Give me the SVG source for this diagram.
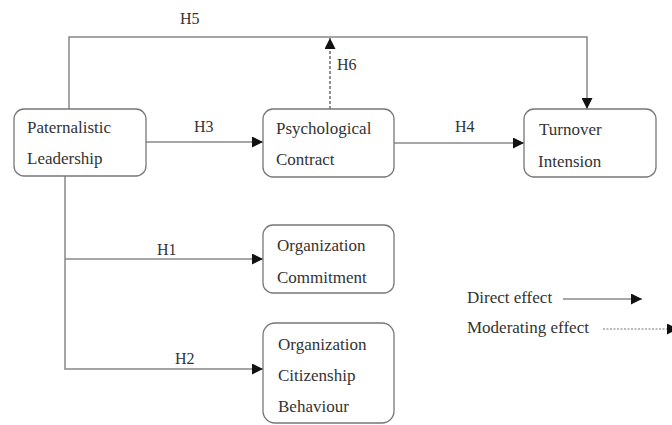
<svg xmlns="http://www.w3.org/2000/svg" width="672" height="425" viewBox="0 0 672 425">
<style>
.box{fill:#fff;stroke:#777;stroke-width:1.3}
.t{font-family:"Liberation Serif","Times New Roman",serif;font-size:17px;fill:#333}
.h{font-family:"Liberation Serif","Times New Roman",serif;font-size:16px;fill:#333}
.c{fill:none;stroke:#888;stroke-width:1.5}
.d{fill:none;stroke:#555;stroke-width:1.3;stroke-dasharray:3 2}
.d2{fill:none;stroke:#777;stroke-width:1;stroke-dasharray:2 1.5}
</style>
<defs>
<marker id="ah" markerUnits="userSpaceOnUse" markerWidth="11" markerHeight="11" refX="10" refY="5" orient="auto" viewBox="0 0 10 10">
<path d="M0,0 L10,5 L0,10 z" fill="#111"/>
</marker>
</defs>
<rect width="672" height="425" fill="#fff"/>
<g id="connectors">
<path class="c" d="M69,109 V37 H587 V109" marker-end="url(#ah)"/>
<line class="d" x1="330" y1="109" x2="330" y2="38" marker-end="url(#ah)"/>
<line class="c" x1="146" y1="142" x2="263" y2="142" marker-end="url(#ah)"/>
<line class="c" x1="394" y1="143" x2="524" y2="143" marker-end="url(#ah)"/>
<path class="c" d="M65,176 V369 H263" marker-end="url(#ah)"/>
<line class="c" x1="65" y1="259" x2="263" y2="259" marker-end="url(#ah)"/>
<text class="h" x="180" y="24">H5</text>
<text class="h" x="337" y="70">H6</text>
<text class="h" x="194" y="132">H3</text>
<text class="h" x="455" y="132">H4</text>
<text class="h" x="157" y="255">H1</text>
<text class="h" x="175" y="364">H2</text>
</g>
<g id="paternalistic">
<rect class="box" x="14" y="109" width="132" height="67" rx="10"/>
<text class="t" x="27" y="133">Paternalistic</text>
<text class="t" x="27" y="164">Leadership</text>
</g>
<g id="psychological">
<rect class="box" x="263" y="109" width="131" height="68" rx="10"/>
<text class="t" x="276" y="134">Psychological</text>
<text class="t" x="276" y="165">Contract</text>
</g>
<g id="turnover">
<rect class="box" x="524" y="109" width="132" height="68" rx="10"/>
<text class="t" x="539" y="135">Turnover</text>
<text class="t" x="538" y="167">Intension</text>
</g>
<g id="commitment">
<rect class="box" x="263" y="225" width="131" height="68" rx="10"/>
<text class="t" x="277" y="251">Organization</text>
<text class="t" x="277" y="283">Commitment</text>
</g>
<g id="citizenship">
<rect class="box" x="263" y="323" width="131" height="100" rx="12"/>
<text class="t" x="278" y="350">Organization</text>
<text class="t" x="278" y="381">Citizenship</text>
<text class="t" x="278" y="412">Behaviour</text>
</g>
<g id="legend">
<text class="t" x="467" y="303">Direct effect</text>
<line class="c" x1="563" y1="299" x2="642" y2="299" stroke="#555" marker-end="url(#ah)"/>
<text class="t" x="467" y="333">Moderating effect</text>
<line class="d2" x1="603" y1="329" x2="678" y2="329" marker-end="url(#ah)"/>
</g>
</svg>
